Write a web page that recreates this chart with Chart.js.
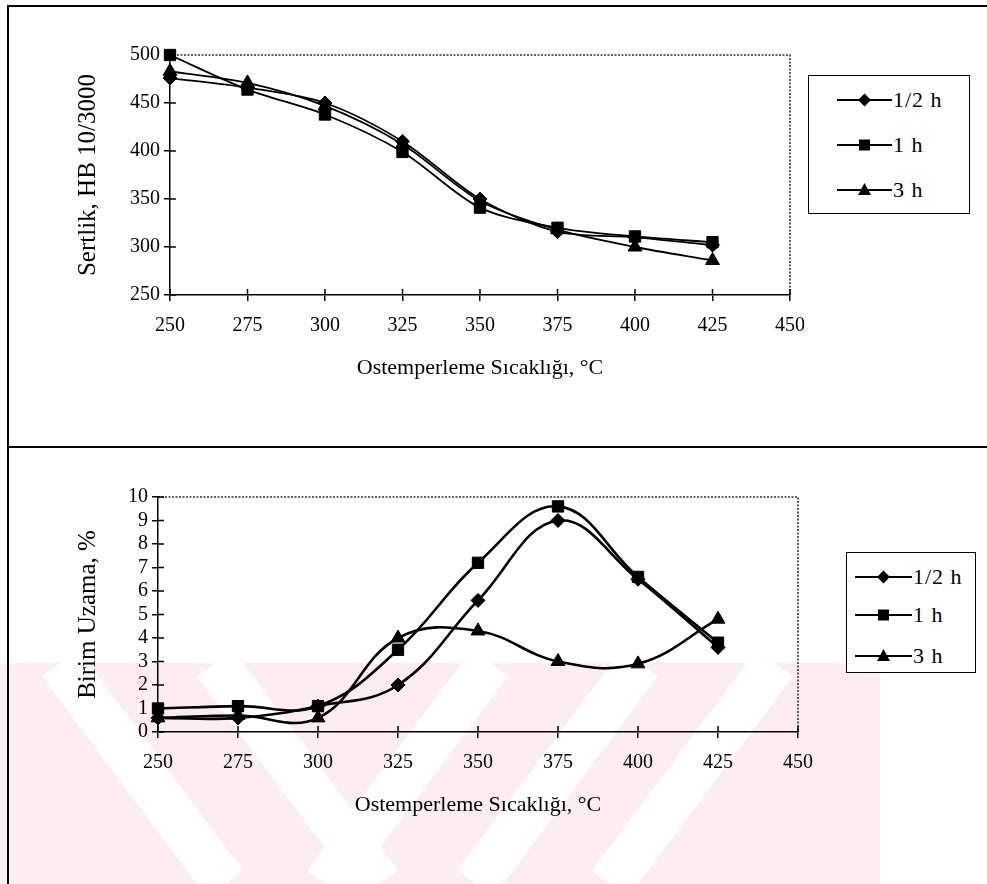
<!DOCTYPE html>
<html><head><meta charset="utf-8">
<script src="https://cdn.jsdelivr.net/npm/chart.js@4.4.1/dist/chart.umd.min.js"></script>
<style>
html,body{margin:0;padding:0;background:#fff;}
body{width:987px;height:884px;position:relative;overflow:hidden;font-family:"Liberation Serif","Times New Roman",serif;}
.frame{position:absolute;background:#000;}
.wrap{position:absolute;left:0;}
.legend{position:absolute;border:1.5px solid #000;background:#fff;box-sizing:border-box;}
.item{position:absolute;display:flex;align-items:center;font-size:22px;letter-spacing:1px;color:#000;line-height:22px;white-space:nowrap;}
.item svg{margin-right:1px;}
</style></head><body>
<svg id="wm" width="987" height="884" style="position:absolute;left:0;top:0">
  <defs><clipPath id="wmc"><rect x="0" y="663" width="880" height="221"/></clipPath></defs>
  <g clip-path="url(#wmc)">
    <rect x="0" y="663" width="880" height="221" fill="#fdedf0"/>
    <g stroke="#fff" stroke-width="45">
      <line x1="60" y1="663" x2="225" y2="884"/>
      <line x1="215" y1="663" x2="380" y2="884"/>
      <line x1="490" y1="663" x2="325" y2="884"/>
      <line x1="640" y1="663" x2="475" y2="884"/>
      <line x1="775" y1="663" x2="610" y2="884"/>
    </g>
  </g>
</svg>
<div class="frame" style="left:8px;top:5px;width:979px;height:2px"></div>
<div class="frame" style="left:7px;top:5px;width:2px;height:879px"></div>
<div class="frame" style="left:8px;top:446px;width:979px;height:2px"></div>
<div class="wrap" style="top:0;width:987px;height:447px"><canvas id="c1" width="987" height="447"></canvas></div>
<div class="wrap" style="top:447px;width:987px;height:437px"><canvas id="c2" width="987" height="437"></canvas></div>
<div id="leg1" class="legend" style="left:808px;top:75px;width:162px;height:139px"></div>
<div id="leg2" class="legend" style="left:846px;top:552px;width:130px;height:121px"></div>
<script>
// ---- data ----
const temperatures = [250, 275, 300, 325, 350, 375, 400, 425];
const seriesLabels = ['1/2 h', '1 h', '3 h'];
const hardnessHalfHour  = [476, 466, 450, 410, 350, 316, 310, 302];
const hardnessOneHour   = [500, 464, 438, 399, 341, 320, 311, 305];
const hardnessThreeHour = [483, 471, 447, 407, 348, 318, 300, 286];
const elongationHalfHour  = [0.6, 0.6, 1.1, 2.0, 5.6, 9.0, 6.5, 3.6];
const elongationOneHour   = [1.0, 1.1, 1.1, 3.5, 7.2, 9.6, 6.6, 3.8];
const elongationThreeHour = [0.6, 0.7, 0.6, 4.0, 4.3, 3.0, 2.9, 4.8];
const xAxisTitle = 'Ostemperleme Sıcaklığı, °C';
const hardnessTitle = 'Sertlik, HB 10/3000';
const elongationTitle = 'Birim Uzama, %';
const xRange = [250, 450, 25];
const hardnessRange = [250, 500, 50];
const elongationRange = [0, 10, 1];

const pointStyles = ['rectRot', 'rect', 'triangle'];
const pointRadii = [7, 8, 8];
const FONT = '"Liberation Serif","Times New Roman",serif';

const frameDeco = {
  id: 'frameDeco',
  afterDraw(chart) {
    const {ctx, chartArea: a, scales: {x, y}} = chart;
    ctx.save();
    ctx.strokeStyle = '#000'; ctx.lineWidth = 1.5;
    ctx.beginPath();
    x.ticks.forEach(t => { const px = x.getPixelForValue(t.value); ctx.moveTo(px, a.bottom); ctx.lineTo(px, a.bottom - 6); });
    y.ticks.forEach(t => { const py = y.getPixelForValue(t.value); ctx.moveTo(a.left, py); ctx.lineTo(a.left + 6, py); });
    ctx.stroke();
    ctx.restore();
  },
  beforeDatasetsDraw(chart) {
    const {ctx, chartArea: a} = chart;
    ctx.save();
    ctx.setLineDash([2, 1.5]); ctx.strokeStyle = '#333'; ctx.lineWidth = 1.6;
    ctx.beginPath(); ctx.moveTo(a.left, a.top); ctx.lineTo(a.right, a.top); ctx.lineTo(a.right, a.bottom); ctx.stroke();
    ctx.restore();
  }
};

function makeChart(id, seriesList, yRange, yTitle, geo, lineW, tension) {
  const datasets = seriesList.map((vals, i) => ({
    label: seriesLabels[i],
    data: temperatures.map((t, k) => ({x: t, y: vals[k]})),
    borderColor: '#000', backgroundColor: '#000', borderWidth: lineW,
    pointStyle: pointStyles[i], pointRadius: pointRadii[i], pointBorderWidth: 1,
    pointBackgroundColor: '#000', pointBorderColor: '#000',
    tension: tension, clip: false
  }));
  return new Chart(document.getElementById(id), {
    type: 'line',
    data: {datasets},
    options: {
      responsive: false, animation: false, devicePixelRatio: 1,
      layout: {padding: {left: geo.padL, right: geo.padR, top: geo.padT, bottom: geo.padB}},
      plugins: {legend: {display: false}, tooltip: {enabled: false}},
      scales: {
        x: {
          type: 'linear', min: xRange[0], max: xRange[1],
          ticks: {stepSize: xRange[2], autoSkip: false, color: '#000', font: {family: FONT, size: 20}, padding: 13},
          grid: {drawOnChartArea: false, color: '#000', lineWidth: 1.5, tickLength: 6},
          border: {color: '#000', width: 1.5},
          title: {display: true, text: xAxisTitle, color: '#000', font: {family: FONT, size: 22}, padding: 0},
          afterFit: s => { s.height = geo.xH; }
        },
        y: {
          min: yRange[0], max: yRange[1],
          ticks: {stepSize: yRange[2], autoSkip: false, color: '#000', font: {family: FONT, size: 20}, padding: 4},
          grid: {drawOnChartArea: false, color: '#000', lineWidth: 1.5, tickLength: 6},
          border: {color: '#000', width: 1.5},
          title: {display: true, text: yTitle, color: '#000', font: {family: FONT, size: 25}, padding: 0},
          afterFit: s => { s.width = geo.yW; }
        }
      }
    },
    plugins: [frameDeco]
  });
}

makeChart('c1', [hardnessHalfHour, hardnessOneHour, hardnessThreeHour], hardnessRange, hardnessTitle,
  {padL: 73, padR: 197, padT: 55, padB: 66, xH: 86, yW: 97}, 1.8, 0.3);
makeChart('c2', [elongationHalfHour, elongationOneHour, elongationThreeHour], elongationRange, elongationTitle,
  {padL: 73, padR: 189, padT: 50, padB: 66, xH: 86, yW: 85}, 2.6, 0.4);

function markerSVG(i, w) {
  const c = 8, m = w / 2;
  let shape;
  if (i === 0) shape = `<polygon points="${m},${c-6.5} ${m+6.5},${c} ${m},${c+6.5} ${m-6.5},${c}" fill="#000"/>`;
  else if (i === 1) shape = `<rect x="${m-5.5}" y="${c-5.5}" width="11" height="11" fill="#000"/>`;
  else shape = `<polygon points="${m},${c-7} ${m+6.5},${c+5} ${m-6.5},${c+5}" fill="#000"/>`;
  return `<svg width="${w}" height="16"><line x1="0" y1="${c}" x2="${w}" y2="${c}" stroke="#000" stroke-width="2"/>${shape}</svg>`;
}
function buildLegend(id, ys, left, w) {
  const el = document.getElementById(id);
  seriesLabels.forEach((lab, i) => {
    const d = document.createElement('div');
    d.className = 'item';
    d.style.left = left + 'px';
    d.style.top = (ys[i] - 11) + 'px';
    d.innerHTML = markerSVG(i, w) + '<span>' + lab + '</span>';
    el.appendChild(d);
  });
}
buildLegend('leg1', [24, 69, 114], 28, 55);
buildLegend('leg2', [24, 62, 103], 8, 57);
</script>
</body></html>
